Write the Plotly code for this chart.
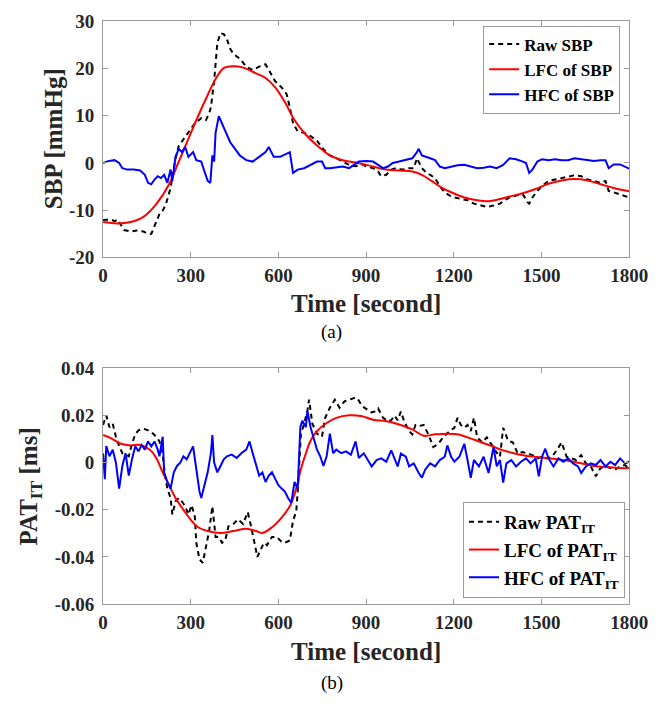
import plotly.graph_objects as go

# ---------------- data: (a) SBP ----------------
t_sbp_raw = [0, 10, 27, 40, 50, 60, 72, 94, 115, 138, 149, 165, 176, 193, 205, 215, 231, 237, 248, 259,
             275, 292, 314, 336, 352, 363, 369, 380, 391, 402, 413, 424, 435, 446, 468, 490, 512, 534, 556, 567,
             589, 611, 628, 639, 650, 666, 688, 710, 732, 754, 776, 798, 820, 842, 864, 886, 902, 924, 941, 951,
             969, 986, 1002, 1024, 1047, 1063, 1074, 1080, 1091, 1102, 1119, 1136, 1152, 1169, 1186, 1202, 1224,
             1247, 1269, 1291, 1313, 1336, 1358, 1374, 1391, 1413, 1436, 1452, 1458, 1469, 1486, 1502, 1524, 1547,
             1569, 1591, 1613, 1636, 1658, 1680, 1702, 1719, 1730, 1747, 1769, 1786, 1800]
sbp_raw = [-12.1, -12.0, -12.0, -12.3, -12.0, -13.0, -14.2, -14.5, -14.3, -14.5, -14.9, -15.0, -13.5, -10.8, -10.0,
           -8.7, -5.3, -3.2, 1.0, 3.6, 5.0, 6.4, 8.4, 9.5, 9.1, 10.5, 11.8, 17.3, 25.5, 27.5, 27.3, 26.2, 24.2, 23.1,
           22.1, 20.4, 19.7, 20.4, 20.9, 19.7, 17.3, 16.0, 14.6, 11.8, 8.4, 6.7, 6.4, 5.7, 4.7, 2.9, 1.6, 1.0, 0.3,
           -0.4, -0.7, -0.3, -0.75, -1.1, -1.8, -2.8, -2.5, -1.4, -1.1, -1.4, -1.1, -1.1, 1.0, 0.3, -1.1, -1.8, -2.5,
           -3.2, -4.9, -6.2, -6.9, -7.3, -7.6, -7.9, -8.6, -9.0, -9.3, -9.0, -8.6, -7.9, -7.3, -6.9, -6.6, -8.3, -8.6,
           -7.3, -5.9, -4.9, -3.8, -3.5, -3.2, -2.8, -2.6, -2.8, -3.5, -3.8, -4.2, -3.8, -5.9, -6.2, -6.6, -6.9, -7.3]

t_sbp_lfc = [0, 50, 94, 138, 182, 226, 259, 292, 325, 358, 385, 413, 446, 479, 523, 556, 589, 622, 655, 688, 732,
             776, 820, 864, 908, 969, 1013, 1058, 1091, 1124, 1158, 1191, 1236, 1280, 1313, 1347, 1391, 1436, 1480,
             1524, 1569, 1613, 1658, 1702, 1747, 1800]
sbp_lfc = [-12.5, -12.8, -12.5, -11.4, -8.7, -4.5, 0.3, 5.1, 9.9, 14.4, 17.8, 20.1, 20.5, 20.2, 19.0, 18.0, 16.0,
           12.9, 9.1, 6.4, 3.7, 1.6, 0.6, 0.1, -0.5, -1.4, -1.6, -1.8, -2.5, -3.8, -5.2, -6.2, -7.3, -7.9, -8.1, -7.8,
           -7.1, -6.4, -5.5, -4.4, -3.7, -3.4, -3.7, -4.5, -5.3, -6.0]

t_sbp_hfc = [0, 17, 39, 55, 66, 83, 105, 127, 143, 154, 165, 176, 187, 198, 209, 220, 231, 237, 248, 259, 270, 281,
             292, 308, 319, 336, 347, 358, 367, 374, 380, 385, 396, 407, 418, 435, 451, 468, 490, 512, 534, 556, 567,
             584, 606, 628, 639, 650, 666, 688, 710, 732, 749, 760, 776, 798, 820, 842, 875, 902, 924, 941, 958, 975,
             991, 1013, 1036, 1058, 1074, 1080, 1091, 1102, 1119, 1136, 1152, 1169, 1191, 1213, 1236, 1258, 1280,
             1302, 1324, 1347, 1369, 1391, 1413, 1436, 1447, 1458, 1469, 1486, 1502, 1524, 1547, 1569, 1591, 1613,
             1636, 1658, 1680, 1702, 1719, 1730, 1747, 1769, 1786, 1800]
sbp_hfc = [0.0, 0.4, 0.6, 0.0, -1.1, -1.4, -1.4, -1.6, -2.5, -4.2, -4.5, -3.5, -2.8, -3.2, -2.5, -4.2, -1.4, -3.8,
           1.3, 3.0, 2.3, 3.4, 1.3, 2.3, 0.6, 0.3, -1.8, -3.8, -4.2, 1.6, 0.3, 6.4, 9.9, 8.5, 6.8, 4.4, 3.0, 1.6, 0.6,
           0.3, 1.3, 2.3, 3.4, 1.3, 1.3, 2.0, 2.3, -2.1, -1.4, -1.1, -0.4, 0.3, 0.3, -1.1, -1.1, -1.0, -0.75, -1.1,
           0.3, 0.4, 0.3, -0.4, -1.1, -0.75, 0.0, 0.3, 0.6, 1.0, 2.3, 3.0, 1.6, 1.3, 1.0, 0.6, -0.75, -1.1, -0.75,
           -0.5, -0.4, -0.75, -1.1, -1.0, -0.75, -1.1, -0.4, 1.0, 0.8, 0.3, 0.0, -2.1, -1.4, 0.3, 0.8, 0.6, 0.8, 0.6,
           0.6, 1.0, 0.8, 0.6, 0.4, 0.6, 0.6, -1.1, -0.3, -0.3, -0.75, -1.2]

# ---------------- data: (b) PAT_IT ----------------
t_pat_raw = [0, 11, 22, 33, 44, 55, 66, 77, 88, 99, 110, 121, 138, 154, 171, 182, 193, 204, 212, 220, 231, 237, 248,
             259, 270, 281, 292, 303, 314, 319, 330, 341, 352, 363, 374, 385, 396, 407, 418, 429, 446, 462, 479, 495,
             506, 517, 528, 539, 550, 561, 578, 594, 611, 622, 639, 650, 661, 666, 677, 688, 699, 705, 716, 732, 749,
             760, 776, 793, 809, 826, 842, 859, 870, 886, 903, 919, 930, 941, 958, 975, 986, 997, 1008, 1019, 1030,
             1047, 1058, 1069, 1080, 1097, 1113, 1130, 1147, 1163, 1174, 1186, 1202, 1213, 1224, 1236, 1247, 1258,
             1269, 1280, 1297, 1313, 1324, 1336, 1341, 1358, 1369, 1386, 1402, 1419, 1436, 1452, 1469, 1486, 1502,
             1519, 1536, 1552, 1569, 1586, 1602, 1619, 1636, 1652, 1669, 1686, 1702, 1719, 1736, 1752, 1769, 1786,
             1797, 1800]
pat_raw = [0.016, 0.020, 0.015, 0.0165, 0.011, 0.007, 0.004, 0.0034, 0.0027, 0.008, 0.012, 0.0137, 0.0144, 0.0137,
           0.0123, 0.011, 0.009, 0.0034, -0.0055, -0.011, -0.015, -0.022, -0.0165, -0.015, -0.0165, -0.0185, -0.022,
           -0.018, -0.023, -0.034, -0.041, -0.0425, -0.0357, -0.029, -0.0185, -0.0315, -0.0315, -0.034, -0.033,
           -0.027, -0.026, -0.024, -0.026, -0.021, -0.0268, -0.033, -0.040, -0.037, -0.034, -0.035, -0.0315,
           -0.0315, -0.0336, -0.034, -0.033, -0.0247, -0.0206, -0.0123, 0.0123, 0.0165, 0.022, 0.0267, 0.0165,
           0.0123, 0.011, 0.019, 0.0233, 0.0267, 0.0233, 0.026, 0.0267, 0.0274, 0.0274, 0.024, 0.0226, 0.0213,
           0.0217, 0.023, 0.019, 0.0176, 0.018, 0.020, 0.018, 0.0217, 0.0176, 0.0134, 0.012, 0.016, 0.0155, 0.016,
           0.012, 0.0066, 0.008, 0.0107, 0.012, 0.0134, 0.0148, 0.019, 0.016, 0.0148, 0.016, 0.0134, 0.019, 0.0107,
           0.0086, 0.0107, 0.0086, 0.0066, 0.0052, 0.0025, 0.0148, 0.0093, 0.0086, 0.0038, 0.0045, 0.0038, 0.0032,
           0.0018, 0.0025, 0.0018, 0.0025, 0.0052, 0.0086, 0.0025, 0.0018, 0.0011, 0.0032, -0.0003, -0.0016,
           -0.0058, -0.0023, -0.0016, -0.0023, -0.003, -0.0016, -0.001, -0.0023, -0.003, -0.0016, -0.0064, -0.0044]

t_pat_lfc = [0, 28, 61, 94, 127, 160, 182, 204, 226, 248, 275, 303, 325, 358, 402, 446, 490, 523, 545, 578, 611, 639,
             661, 677, 694, 710, 732, 765, 798, 842, 886, 924, 969, 1013, 1058, 1097, 1136, 1180, 1213, 1247, 1280,
             1324, 1369, 1413, 1458, 1502, 1547, 1591, 1636, 1680, 1724, 1769, 1800]
pat_lfc = [0.0117, 0.0103, 0.008, 0.0073, 0.0075, 0.0055, 0.002, -0.0041, -0.0096, -0.015, -0.02, -0.0247, -0.0274,
           -0.029, -0.0298, -0.029, -0.028, -0.029, -0.0298, -0.0274, -0.0233, -0.0185, -0.011, -0.0027, 0.004,
           0.0093, 0.0134, 0.0168, 0.019, 0.0201, 0.0197, 0.0182, 0.0176, 0.0162, 0.0141, 0.0114, 0.012, 0.0123,
           0.012, 0.0107, 0.0093, 0.0073, 0.0052, 0.0038, 0.0027, 0.0022, 0.0015, 0.0008, -0.0003, -0.0014, -0.0019,
           -0.0023, -0.0023]

t_pat_hfc = [0, 6, 11, 22, 33, 44, 55, 66, 77, 88, 99, 110, 121, 132, 143, 154, 165, 176, 187, 193, 204, 209, 220,
             231, 242, 253, 264, 275, 286, 297, 308, 319, 330, 336, 347, 358, 369, 374, 380, 391, 402, 413, 424, 440,
             457, 473, 490, 501, 512, 523, 534, 545, 556, 567, 578, 589, 600, 611, 622, 633, 644, 655, 666, 675, 682,
             694, 699, 710, 721, 732, 743, 754, 765, 776, 787, 798, 815, 831, 848, 864, 875, 892, 908, 919, 936, 952,
             969, 986, 997, 1008, 1019, 1036, 1047, 1063, 1080, 1091, 1102, 1119, 1136, 1152, 1169, 1178, 1191, 1202,
             1219, 1236, 1247, 1258, 1269, 1286, 1302, 1319, 1336, 1347, 1358, 1369, 1380, 1397, 1413, 1430, 1447,
             1463, 1480, 1491, 1502, 1513, 1524, 1541, 1558, 1575, 1591, 1608, 1625, 1636, 1652, 1669, 1686, 1702,
             1719, 1736, 1752, 1769, 1786, 1800]
pat_hfc = [0.004, -0.007, 0.007, 0.0027, 0.0055, 0.0, -0.011, -0.0014, 0.004, -0.0055, 0.0014, 0.0069, 0.0048,
           0.0075, 0.0055, 0.009, 0.0069, 0.009, 0.0055, 0.0027, 0.011, -0.0041, -0.0082, -0.011, -0.0041, -0.0014,
           0.0, 0.0027, 0.0014, 0.004, 0.0069, -0.0027, -0.0123, -0.015, -0.0096, -0.0041, 0.004, 0.0117, 0.0,
           -0.0041, -0.0014, 0.0014, 0.0027, 0.0034, 0.002, 0.004, 0.0055, 0.009, 0.004, -0.0014, -0.0055, -0.0041,
           -0.0082, -0.0055, -0.0041, -0.0069, -0.0096, -0.011, -0.0123, -0.015, -0.0171, -0.0082, -0.011, 0.0151,
           0.0178, 0.015, 0.022, 0.015, 0.0096, 0.0055, 0.0027, -0.0014, 0.0027, 0.0123, 0.004, 0.0055, 0.004,
           0.0048, 0.0034, 0.009, 0.002, 0.004, 0.0007, -0.0016, 0.0011, 0.0018, 0.0004, 0.0052, 0.0018, -0.0016,
           0.0038, 0.0025, -0.0016, -0.0003, -0.0044, -0.0064, -0.003, -0.0003, -0.0016, 0.0011, 0.0025, 0.0073,
           0.0025, 0.0004, 0.0025, 0.008, 0.0011, -0.0064, 0.0011, -0.0016, 0.0025, -0.0044, 0.0066, -0.0016,
           0.0011, -0.0085, -0.0003, 0.0011, -0.0016, 0.0004, 0.0018, -0.0003, 0.0018, -0.0058, 0.0025, 0.0059,
           0.0018, -0.0016, 0.0018, 0.0004, 0.0018, -0.0003, -0.0016, -0.0044, -0.0016, -0.0003, -0.001, 0.0011,
           -0.0016, 0.0004, -0.001, 0.0018, -0.0003, 0.0004]

x_ticks = [0, 300, 600, 900, 1200, 1500, 1800]
x_ticktext = ["0", "300", "600", "900", "1200", "1500", "1800"]
y1_ticks = [-20, -10, 0, 10, 20, 30]
y1_ticktext = ["-20", "-10", "0", "10", "20", "30"]
y2_ticks = [-0.06, -0.04, -0.02, 0, 0.02, 0.04]
y2_ticktext = ["-0.06", "-0.04", "-0.02", "0", "0.02", "0.04"]

# ---------------- figure ----------------
W, H = 671, 707
FONT = "Liberation Serif"
AX = "#9a9a9a"
TXT = "#262626"


def fx(p):
    return p / W


def fy(p):
    return 1 - p / H


fig = go.Figure()
dash_raw = "5px,4px"
fig.add_trace(go.Scatter(x=t_sbp_raw, y=sbp_raw, mode="lines", name="Raw SBP",
                         line=dict(color="black", width=2, dash=dash_raw), xaxis="x", yaxis="y", legend="legend"))
fig.add_trace(go.Scatter(x=t_sbp_lfc, y=sbp_lfc, mode="lines", name="LFC of SBP",
                         line=dict(color="#ff0000", width=2, shape="spline"), xaxis="x", yaxis="y", legend="legend"))
fig.add_trace(go.Scatter(x=t_sbp_hfc, y=sbp_hfc, mode="lines", name="HFC of SBP",
                         line=dict(color="#0000ff", width=2), xaxis="x", yaxis="y", legend="legend"))

fig.add_trace(go.Scatter(x=t_pat_raw, y=pat_raw, mode="lines", name="Raw PAT<sub>IT</sub>",
                         line=dict(color="black", width=2, dash=dash_raw), xaxis="x2", yaxis="y2", legend="legend2"))
fig.add_trace(go.Scatter(x=t_pat_lfc, y=pat_lfc, mode="lines", name="LFC of PAT<sub>IT</sub>",
                         line=dict(color="#ff0000", width=2, shape="spline"), xaxis="x2", yaxis="y2", legend="legend2"))
fig.add_trace(go.Scatter(x=t_pat_hfc, y=pat_hfc, mode="lines", name="HFC of PAT<sub>IT</sub>",
                         line=dict(color="#0000ff", width=2), xaxis="x2", yaxis="y2", legend="legend2"))

tickfont = dict(family=FONT, size=19, color=TXT, weight="bold")
common = dict(showline=True, linecolor=AX, linewidth=1, mirror="ticks", ticks="inside", ticklen=5,
              tickcolor=AX, showgrid=False, zeroline=False, tickfont=tickfont)
xdom = [fx(101.7), fx(647.3)]

fig.update_layout(
    width=W, height=H, margin=dict(l=0, r=0, t=0, b=0),
    paper_bgcolor="white", plot_bgcolor="white",
    xaxis=dict(domain=xdom, anchor="y", range=[0, 1800], tickvals=x_ticks, ticktext=x_ticktext,
               ticklabelstandoff=1, **common),
    yaxis=dict(domain=[fy(255), fy(11.7)], anchor="x", range=[-20, 30], tickvals=y1_ticks,
               ticktext=y1_ticktext, ticklabelstandoff=4, **common),
    xaxis2=dict(domain=xdom, anchor="y2", range=[0, 1800], tickvals=x_ticks, ticktext=x_ticktext,
                ticklabelstandoff=1, **common),
    yaxis2=dict(domain=[fy(612.3), fy(369.3)], anchor="x2", range=[-0.06, 0.04], tickvals=y2_ticks,
                ticktext=y2_ticktext, ticklabelstandoff=4, **common),
    legend=dict(x=fx(638), xanchor="right", y=fy(16), yanchor="top", bgcolor="white",
                bordercolor=AX, borderwidth=1, font=dict(family=FONT, size=17, color="black", weight="bold"),
                itemwidth=30, tracegroupgap=0),
    legend2=dict(x=fx(643), xanchor="right", y=fy(606), yanchor="bottom", bgcolor="white",
                 bordercolor=AX, borderwidth=1, font=dict(family=FONT, size=19, color="black", weight="bold"),
                 itemwidth=30, tracegroupgap=0),
    showlegend=True,
)

ann_font = dict(family=FONT, size=25, color=TXT, weight="bold")
fig.add_annotation(text="SBP [mmHg]", x=fx(50), y=fy(133), xref="paper", yref="paper", textangle=-90,
                   showarrow=False, font=ann_font, xanchor="center", yanchor="middle")
fig.add_annotation(text="PAT<sub>IT</sub> [ms]", x=fx(26), y=fy(491), xref="paper", yref="paper", textangle=-90,
                   showarrow=False, font=ann_font, xanchor="center", yanchor="middle")
fig.add_annotation(text="Time [second]", x=fx(374.5), y=fy(302), xref="paper", yref="paper",
                   showarrow=False, font=ann_font, xanchor="center", yanchor="middle")
fig.add_annotation(text="Time [second]", x=fx(374.5), y=fy(661), xref="paper", yref="paper",
                   showarrow=False, font=ann_font, xanchor="center", yanchor="middle")
lab_font = dict(family=FONT, size=19, color="black")
fig.add_annotation(text="(a)", x=fx(339), y=fy(332), xref="paper", yref="paper",
                   showarrow=False, font=lab_font, xanchor="center", yanchor="middle")
fig.add_annotation(text="(b)", x=fx(339), y=fy(694), xref="paper", yref="paper",
                   showarrow=False, font=lab_font, xanchor="center", yanchor="middle")

fig.write_html("out.html")
